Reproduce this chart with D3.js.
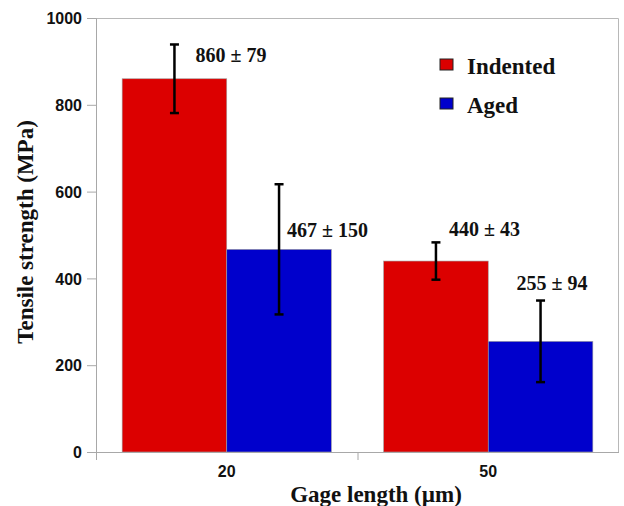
<html>
<head>
<meta charset="utf-8">
<title>Tensile strength vs gage length</title>
<style>
  body { margin: 0; background: #fff; }
  .tick-lbl { font-family: "Liberation Sans", Arial, sans-serif; font-weight: bold; font-size: 16px; fill: #111; }
  .ttl { font-family: "Liberation Serif", "Times New Roman", serif; font-weight: bold; font-size: 23px; fill: #111; }
  .val { font-family: "Liberation Serif", "Times New Roman", serif; font-weight: bold; font-size: 20px; fill: #111; }
  .leg { font-family: "Liberation Serif", "Times New Roman", serif; font-weight: bold; font-size: 23px; fill: #111; }
</style>
<script src="https://cdn.jsdelivr.net/npm/d3@7"></script>
</head>
<body>
<svg id="chart" width="624" height="506"></svg>
<script>
// data
var gageLengths = ["20", "50"];
var seriesNames = ["Indented", "Aged"];
var indentedMean = [860, 440];
var indentedSd = [79, 43];
var agedMean = [467, 255];
var agedSd = [150, 94];
var yTicks = [0, 200, 400, 600, 800, 1000];

var colors = {Indented: "#dc0000", Aged: "#0000cc"};
// hand placed label nudges (px) relative to bar centre / error bar top
var labelNudge = [[21, 18], [8, 53], [13, -6], [-24, -11]];

var svg = d3.select("#chart"),
    margin = {top: 18, right: 5, bottom: 54, left: 96},
    width = +svg.attr("width") - margin.left - margin.right,
    height = +svg.attr("height") - margin.top - margin.bottom,
    g = svg.append("g").attr("transform", "translate(" + margin.left + "," + margin.top + ")");

var x0 = d3.scaleBand().domain(gageLengths).range([0, width]).padding(0);
var x1 = d3.scaleBand().domain(seriesNames).range([0, x0.bandwidth()]).paddingInner(0).paddingOuter(0.25);
var y = d3.scaleLinear().domain([0, 1000]).range([height, 0]);

var rows = [];
gageLengths.forEach(function(gl, i) {
  rows.push({gl: gl, s: "Indented", v: indentedMean[i], e: indentedSd[i]});
  rows.push({gl: gl, s: "Aged", v: agedMean[i], e: agedSd[i]});
});
// order labels as they appear left to right
rows.forEach(function(d, i) { d.nudge = labelNudge[i]; });

// box (top / right)
g.append("path")
  .attr("d", "M0,0.5H" + (width - 0.5) + "V" + height)
  .attr("fill", "none").attr("stroke", "#b8b8b8").attr("stroke-width", 1);

// bars
g.selectAll(".bar").data(rows).enter().append("rect")
  .attr("class", "bar")
  .attr("x", function(d) { return x0(d.gl) + x1(d.s); })
  .attr("width", x1.bandwidth())
  .attr("y", function(d) { return y(d.v); })
  .attr("height", function(d) { return height - y(d.v); })
  .attr("fill", function(d) { return colors[d.s]; })
  .attr("stroke", "#a0a0a0").attr("stroke-width", 0.6);

// axes
var yAxis = g.append("g").call(d3.axisLeft(y).tickValues(yTicks).tickSize(9).tickFormat(d3.format("d")));
var xAxis = g.append("g").attr("transform", "translate(0," + height + ")")
  .call(d3.axisBottom(x0).tickSize(0).tickSizeOuter(0));
[yAxis, xAxis].forEach(function(a) {
  a.select(".domain").attr("stroke", "#a8a8a8");
  a.selectAll(".tick line").attr("stroke", "#a8a8a8");
  a.selectAll(".tick text").attr("class", "tick-lbl").attr("font-size", null).attr("font-family", null);
});
yAxis.selectAll(".tick text").attr("x", -14).attr("dy", "0.35em");
xAxis.selectAll(".tick text").attr("y", 25).attr("dy", "0");
xAxis.select(".domain").attr("d", "M-9,0.5H" + width);
// category separator ticks
xAxis.selectAll(".sep").data(gageLengths.slice(1)).enter().append("line")
  .attr("class", "sep")
  .attr("x1", function(d) { return x0(d) + 0.5; }).attr("x2", function(d) { return x0(d) + 0.5; })
  .attr("y1", 0).attr("y2", 8).attr("stroke", "#a8a8a8");
xAxis.append("line").attr("x1", 0.5).attr("x2", 0.5).attr("y1", 0).attr("y2", 8).attr("stroke", "#a8a8a8");

// error bars
var eb = g.selectAll(".err").data(rows).enter().append("g").attr("class", "err")
  .attr("transform", function(d) { return "translate(" + (x0(d.gl) + x1(d.s) + x1.bandwidth() / 2) + ",0)"; });
eb.append("line").attr("y1", function(d) { return y(d.v + d.e); }).attr("y2", function(d) { return y(d.v - d.e); })
  .attr("stroke", "#000").attr("stroke-width", 2.5);
eb.append("line").attr("x1", -4.5).attr("x2", 4.5)
  .attr("y1", function(d) { return y(d.v + d.e); }).attr("y2", function(d) { return y(d.v + d.e); })
  .attr("stroke", "#000").attr("stroke-width", 2.5);
eb.append("line").attr("x1", -4.5).attr("x2", 4.5)
  .attr("y1", function(d) { return y(d.v - d.e); }).attr("y2", function(d) { return y(d.v - d.e); })
  .attr("stroke", "#000").attr("stroke-width", 2.5);
eb.append("text").attr("class", "val")
  .attr("x", function(d) { return d.nudge[0]; })
  .attr("y", function(d) { return y(d.v + d.e) + d.nudge[1]; })
  .text(function(d) { return d.v + " \u00b1 " + d.e; });

// axis titles
svg.append("text").attr("class", "ttl").attr("text-anchor", "middle")
  .attr("x", 376).attr("y", 502).text("Gage length (\u00b5m)");
svg.append("text").attr("class", "ttl").attr("text-anchor", "middle")
  .attr("transform", "translate(33,232) rotate(-90)").text("Tensile strength (MPa)");

// legend
var leg = svg.selectAll(".lg").data(seriesNames).enter().append("g").attr("class", "lg")
  .attr("transform", function(d, i) { return "translate(440," + (59 + i * 39) + ")"; });
leg.append("rect").attr("width", 13).attr("height", 11)
  .attr("fill", function(d) { return colors[d]; }).attr("stroke", "#222").attr("stroke-width", 1);
leg.append("text").attr("class", "leg").attr("x", 27).attr("y", 14.5).text(function(d) { return d; });
</script>
</body>
</html>
